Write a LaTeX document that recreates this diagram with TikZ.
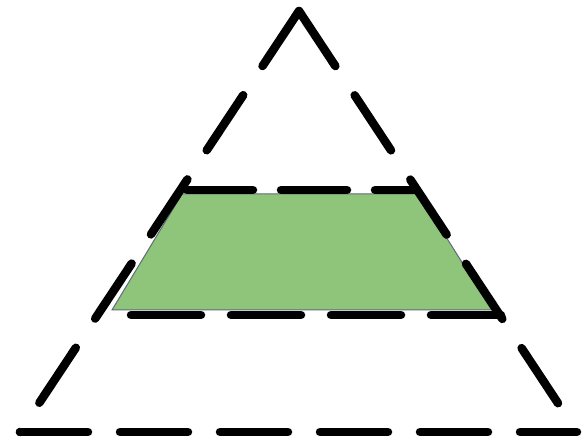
\documentclass[tikz,border=0pt]{standalone}
\begin{document}
\begin{tikzpicture}[x=1pt, y=-1pt]
    \definecolor{borderColour}{HTML}{000000}
    \definecolor{fillColourG}{HTML}{8FC47B}
    \definecolor{edgeColourG}{HTML}{5F6B78}

    \tikzset{
        dashline/.style={draw=borderColour, line width=8.5pt, line cap=round, line join=round,
                         dash pattern=on 68pt off 32pt},
        sideline/.style={dashline, dash pattern=on 66pt off 35pt}
    }

    \useasboundingbox (0,0) rectangle (587,443);

    % Triangle corners
    \coordinate (T1) at (299,11);
    \coordinate (T2) at (577,432);
    \coordinate (T3) at (20,432);

    % Green band: trapezoid inside triangle
    \coordinate (G1) at (182,194);
    \coordinate (G2) at (419,194);
    \coordinate (G3) at (492,310);
    \coordinate (G4) at (112,310);

    \filldraw[fill=fillColourG, draw=edgeColourG, line width=1pt] (G1) -- (G2) -- (G3) -- (G4) -- cycle;

    % Draw triangle, sides dashed from the apex down
    \draw[sideline] (T1) -- (T2);
    \draw[sideline] (T1) -- (T3);
    \draw[dashline] (T3) -- (T2);

    % Draw band edges
    \coordinate (U1) at (187,190);
    \coordinate (U2) at (417,190);
    \coordinate (L1) at (131,315);
    \coordinate (L2) at (501,315);
    \draw[dashline, dash pattern=on 66pt off 28pt] (U1) -- (U2);
    \draw[dashline, dash pattern=on 70pt off 30pt] (L1) -- (L2);
\end{tikzpicture}
\end{document}
